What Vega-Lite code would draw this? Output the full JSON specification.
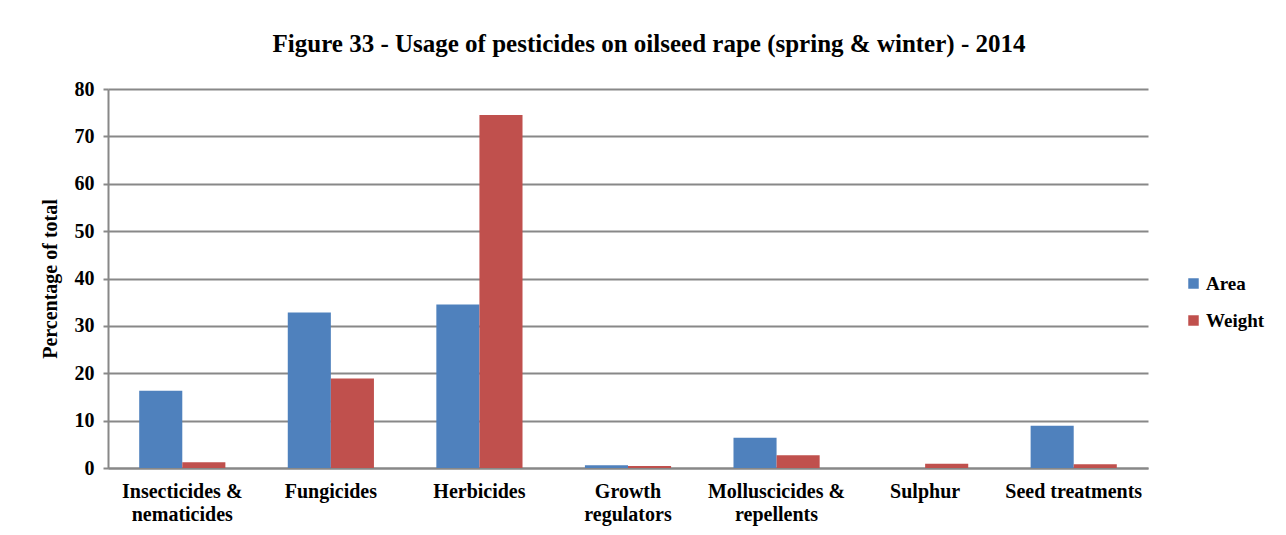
{
  "$schema": "https://vega.github.io/schema/vega-lite/v6.json",
  "autosize": {"type": "none"},
  "padding": {"left": 108, "top": 89, "right": 138, "bottom": 67},
  "width": 1040,
  "height": 379,
  "background": "white",
  "title": {
    "text": "Figure 33 - Usage of pesticides on oilseed rape (spring & winter) - 2014",
    "font": "Liberation Serif",
    "fontSize": 25,
    "fontWeight": "bold",
    "color": "black",
    "anchor": "middle",
    "dx": 21,
    "offset": 22
  },
  "data": {
    "values": [
      {"group": "Insecticides &|nematicides", "series": "Area", "value": 16.3},
      {"group": "Insecticides &|nematicides", "series": "Weight", "value": 1.2},
      {"group": "Fungicides", "series": "Area", "value": 32.8},
      {"group": "Fungicides", "series": "Weight", "value": 18.9},
      {"group": "Herbicides", "series": "Area", "value": 34.5},
      {"group": "Herbicides", "series": "Weight", "value": 74.5},
      {"group": "Growth|regulators", "series": "Area", "value": 0.6},
      {"group": "Growth|regulators", "series": "Weight", "value": 0.4},
      {"group": "Molluscicides &|repellents", "series": "Area", "value": 6.4},
      {"group": "Molluscicides &|repellents", "series": "Weight", "value": 2.7},
      {"group": "Sulphur", "series": "Area", "value": 0},
      {"group": "Sulphur", "series": "Weight", "value": 0.9},
      {"group": "Seed treatments", "series": "Area", "value": 8.9},
      {"group": "Seed treatments", "series": "Weight", "value": 0.8}
    ]
  },
  "mark": {"type": "bar"},
  "encoding": {
    "x": {
      "field": "group",
      "type": "nominal",
      "sort": null,
      "scale": {"paddingInner": 0.42, "paddingOuter": 0.21},
      "axis": {
        "title": null,
        "labelAngle": 0,
        "labelExpr": "split(datum.value, '|')",
        "labelFont": "Liberation Serif",
        "labelFontSize": 20,
        "labelFontWeight": "bold",
        "labelColor": "black",
        "labelPadding": 13,
        "labelLineHeight": 23,
        "ticks": false,
        "domainColor": "#888888",
        "domainWidth": 2,
        "grid": false
      }
    },
    "xOffset": {"field": "series", "type": "nominal", "scale": {"paddingInner": 0}},
    "y": {
      "field": "value",
      "type": "quantitative",
      "scale": {"domain": [0, 80]},
      "axis": {
        "title": "Percentage of total",
        "titleFont": "Liberation Serif",
        "titleFontSize": 20,
        "titleFontWeight": "bold",
        "titleColor": "black",
        "titlePadding": 14,
        "values": [0, 10, 20, 30, 40, 50, 60, 70, 80],
        "labelFont": "Liberation Serif",
        "labelFontSize": 20,
        "labelFontWeight": "bold",
        "labelColor": "black",
        "labelPadding": 9,
        "tickSize": 5,
        "tickColor": "#888888",
        "tickWidth": 2,
        "domainColor": "#888888",
        "domainWidth": 2,
        "gridColor": "#888888",
        "gridWidth": 2
      }
    },
    "color": {
      "field": "series",
      "type": "nominal",
      "scale": {"domain": ["Area", "Weight"], "range": ["#4F81BD", "#C0504D"]},
      "legend": {
        "title": null,
        "orient": "none",
        "legendX": 1076,
        "legendY": 185,
        "symbolType": "square",
        "symbolSize": 110,
        "symbolStrokeWidth": 0,
        "labelFont": "Liberation Serif",
        "labelFontSize": 19,
        "labelFontWeight": "bold",
        "labelColor": "black",
        "labelOffset": 3,
        "rowPadding": 17
      }
    }
  },
  "config": {"view": {"stroke": null}}
}
